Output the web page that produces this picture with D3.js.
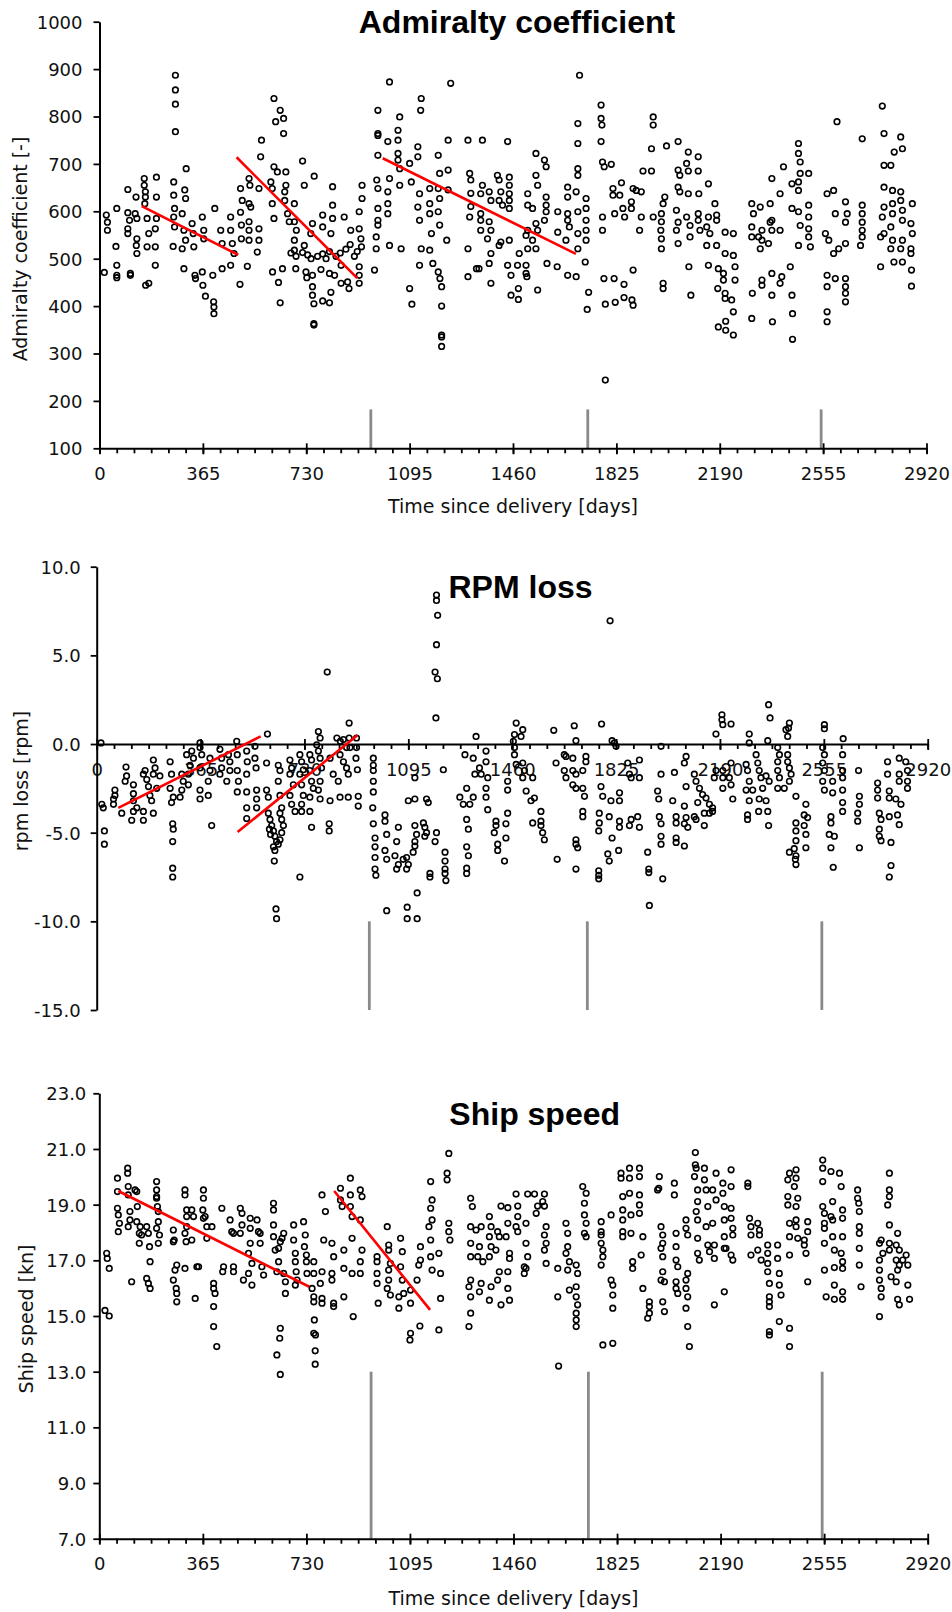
<!DOCTYPE html>
<html><head><meta charset="utf-8">
<script src="https://cdn.jsdelivr.net/npm/d3@7"></script>
<style>
html,body{margin:0;padding:0;background:#fff;}
svg{display:block;}
</style></head><body>
<svg id="chart" width="952" height="1612"></svg>
<script>
// ---------- tick labels ----------
const xTicks = [0, 365, 730, 1095, 1460, 1825, 2190, 2555, 2920];
const admiraltyTicks = [100, 200, 300, 400, 500, 600, 700, 800, 900, 1000];
const rpmTicks = [-15, -10, -5, 0, 5, 10];
const speedTicks = [7, 9, 11, 13, 15, 17, 19, 21, 23];

// ---------- event markers (days) ----------
const markerDays = [958, 1724, 2548];

// ---------- trend lines [day, value] ----------
const admiraltyTrends = [[[149, 611], [490, 508]], [[484, 714], [910, 459]], [[1000, 712], [1682, 510]]];
const rpmTrends = [[[76, -3.6], [576, 0.43]], [[495, -4.96], [916, 0.49]]];
const speedTrends = [[[67, 19.49], [740, 16.05]], [[828, 19.49], [1166, 15.22]]];

// ---------- Admiralty coefficient [day, value] ----------
const admiraltyPoints = [
[24,592],[28,577],[28,560],[61,606],[58,526],[100,646],[100,597],[106,581],[100,563],[100,553],[129,630],[126,595],[132,585],[132,542],[130,528],[132,511],[158,669],[158,655],[162,641],[162,630],[160,616],[168,585],[174,553],[168,525],[201,672],[201,630],[201,585],[197,563],[197,525],[268,887],[268,856],[268,826],[268,768],[262,662],[262,634],[265,606],[262,588],[265,567],[260,526],[301,645],[304,627],[306,690],[292,595],[298,560],[304,539],[292,521],[327,574],[331,553],[333,525],[363,588],[368,560],[368,542],[407,606],[428,560],[433,532],[463,588],[463,560],[469,532],[475,511],[498,648],[504,623],[498,598],[501,571],[501,542],[528,669],[531,655],[528,616],[534,609],[528,578],[528,560],[528,539],[557,514],[563,563],[563,539],[569,715],[572,750],[563,648],[605,662],[610,648],[610,616],[616,585],[616,838],[638,813],[622,789],[650,796],[650,764],[616,694],[628,683],[658,683],[658,655],[654,641],[654,623],[664,595],[670,578],[688,616],[688,578],[695,560],[688,539],[688,518],[717,706],[723,655],[758,674],[752,574],[746,553],[723,528],[788,592],[788,567],[823,652],[823,613],[823,585],[817,553],[864,588],[887,560],[917,599],[927,627],[927,655],[917,563],[923,542],[983,813],[983,764],[983,760],[983,718],[979,666],[983,648],[983,606],[983,581],[983,571],[977,546],[977,521],[1018,747],[1024,873],[1060,799],[1054,771],[1054,750],[1054,722],[1054,708],[1060,690],[1060,655],[1024,669],[1018,641],[1018,616],[1018,595],[1024,528],[1065,521],[1095,701],[1101,662],[1124,736],[1124,715],[1136,838],[1134,813],[1130,637],[1124,609],[1130,581],[1136,521],[1166,518],[1166,616],[1166,595],[1172,553],[1166,648],[1196,718],[1201,680],[1231,750],[1240,870],[1231,687],[1231,645],[1226,539],[1196,648],[1201,627],[1196,599],[1201,571],[1301,750],[1307,680],[1311,666],[1311,638],[1311,610],[1307,588],[1301,521],
[676,512],[694,505],[717,513],[735,508],[747,500],[770,505],[788,510],[800,500],[812,515],[835,505],[850,512],[870,520],[885,530],[900,505],[910,515],[925,525],
[1352,750],[1441,747],[1352,655],[1346,637],[1405,676],[1411,666],[1417,641],[1411,623],[1423,613],[1376,641],[1382,623],[1447,672],[1447,655],[1447,637],[1447,623],[1447,606],[1346,595],[1346,581],[1346,560],[1376,578],[1382,560],[1370,542],[1382,511],[1411,528],[1417,535],[1447,539],[1482,511],[1512,637],[1512,613],[1529,606],[1541,722],[1541,676],[1547,655],[1571,708],[1577,694],[1577,630],[1577,613],[1577,599],[1571,581],[1541,574],[1547,560],[1512,560],[1506,549],[1529,539],[1512,521],[1541,521],[1618,599],[1618,556],[1653,651],[1653,630],[1653,595],[1653,581],[1659,567],[1647,539],[1683,641],[1689,785],[1689,743],[1689,690],[1689,676],[1689,599],[1689,553],[1689,521],[1695,887],[1718,627],[1718,606],[1718,581],[1718,560],[1718,539],[1771,824],[1771,796],[1774,782],[1771,747],[1776,704],[1782,694],[1807,699],[1776,588],[1776,560],[1813,648],[1813,634],[1843,660],[1837,634],[1819,595],[1848,606],[1854,588],[1878,620],[1878,606],[1884,648],[1895,644],[1913,641],[1919,685],[1949,685],[1955,799],[1955,782],[1949,732],[1913,588],[1907,560],[1955,588],[1984,595],[1990,616],[1996,630],[1984,578],[1982,560],[1984,542],[1984,521],[2002,738],[2043,747],[2043,687],[2049,676],[2043,651],[2049,641],[2079,725],[2073,701],[2079,685],[2079,637],[2114,715],[2114,685],[2116,637],[2150,658],[2037,602],[2043,577],[2037,560],[2043,532],[2073,588],[2085,570],[2085,546],[2114,595],[2114,581],[2120,560],[2150,588],[2144,567],[2155,553],[2173,616],[2179,592],[2179,581],[2144,528],[2179,528],[2209,556],[2238,553],[2238,507],[2209,511],[2303,616],[2309,595],[2333,609],[2368,616],[2303,567],[2339,560],[2368,577],[2374,560],[2403,560],[2303,546],[2327,546],[2339,539],[2362,532],[2333,521],[2374,669],[2374,581],[2415,694],[2403,637],[2445,658],[2468,662],[2468,743],[2468,722],[2474,704],[2474,680],[2504,680],[2468,644],[2445,606],[2468,599],[2504,613],[2504,588],[2504,563],[2474,570],[2504,546],[2510,525],[2468,528],[2604,789],[2569,637],[2592,644],[2598,595],[2634,620],[2640,595],[2634,577],[2563,553],[2575,539],[2592,511],[2610,521],[2634,532],[2693,753],[2693,613],[2693,595],[2693,577],[2693,560],[2693,546],[2687,528],[2764,822],[2770,764],[2829,757],[2806,725],[2835,732],[2770,697],[2794,697],[2770,651],[2800,644],[2829,641],[2770,609],[2800,616],[2829,623],[2870,616],[2764,588],[2800,595],[2835,602],[2770,553],[2794,567],[2835,581],[2865,574],[2758,546],[2800,539],[2835,539],[2870,553],[2794,521],[2829,521],[2865,521],[2865,511],
[17,471],[61,486],[61,465],[61,460],[109,469],[109,465],[163,444],[174,448],[197,486],[298,479],[337,465],[339,458],[363,472],[365,444],[374,421],[400,465],[403,409],[404,398],[404,384],[433,479],[463,486],[496,446],[522,484],[611,472],[632,450],[638,407],[646,479],[693,479],[729,472],[732,460],[752,465],[752,441],[752,423],[757,405],[757,363],[757,360],[782,477],[788,411],[812,407],[817,429],[812,469],[830,465],[853,486],[853,448],[876,451],[881,437],[917,448],[917,483],[917,465],[971,476],[1095,437],[1103,404],[1130,486],[1177,490],[1196,472],[1202,458],[1208,441],[1208,400],[1208,339],[1208,335],[1208,315],[1301,462],[1331,479],
[1340,479],[1376,490],[1382,448],[1441,486],[1453,465],[1453,423],[1479,414],[1476,486],[1506,486],[1506,469],[1509,462],[1479,437],[1547,434],[1580,490],[1616,483],[1653,465],[1683,462],[1715,493],[1727,429],[1722,393],[1781,458],[1817,458],[1786,404],[1821,408],[1852,418],[1852,446],[1880,413],[1884,402],[1884,476],[1786,244],[1990,448],[1990,437],[2081,483],[2088,423],[2150,486],[2185,479],[2203,469],[2203,455],[2209,427],[2209,416],[2232,413],[2183,437],[2185,356],[2211,368],[2211,349],[2238,339],[2238,388],[2244,483],[2244,455],[2303,374],[2305,427],[2339,455],[2339,444],[2374,469],[2374,423],[2376,367],[2403,448],[2409,462],[2439,483],[2445,423],[2447,384],[2447,330],[2569,465],[2569,441],[2598,458],[2569,388],[2569,367],[2634,458],[2634,441],[2634,427],[2634,409],[2758,483],[2805,493],[2835,493],[2867,476],[2867,442]
];

// ---------- RPM loss [day, value] ----------
const rpmPoints = [
[15,0.06],[1194,8.4],[1194,8.1],[1198,7.26],[1194,5.6],[1189,4.06],[1197,3.68],[1192,1.47],[810,4.06],[887,1.18],[887,0.34],[913,0.34],[844,0.34],[856,0.15],[867,0.25],[878,-0.2],[890,-0.2],[779,0.7],[785,0.34],[773,-0.04],[600,0.56],[363,0.06],
[23,-3.6],[18,-3.4],[59,-3.1],[59,-3.4],[64,-2.6],[64,-2.9],[103,-1.3],[100,-2.1],[105,-1.8],[129,-2.3],[129,-2.8],[129,-3.2],[141,-3.6],[164,-1.7],[170,-1.5],[176,-2.0],[182,-2.4],[187,-2.9],[193,-3.2],[199,-0.9],[205,-1.35],[199,-1.7],[222,-1.8],[211,-2.5],[258,-1.0],[263,-1.7],[258,-2.5],[269,-3.0],[263,-3.3],[299,-1.7],[304,-2.1],[299,-2.6],[293,-3.0],[316,-0.6],[334,-0.4],[340,-0.8],[328,-1.2],[322,-1.7],[322,-2.3],[363,-0.2],[369,-0.6],[363,-1.35],[363,-2.6],[363,-3.1],[398,-0.8],[398,-1.5],[392,-2.1],[392,-2.9],[433,-0.3],[439,-0.8],[439,-1.35],[433,-1.7],[463,-0.6],[468,-1.0],[468,-1.5],[457,-2.1],[492,0.15],[494,-0.6],[494,-1.5],[498,-2.1],[494,-2.7],[527,-0.4],[529,-1.0],[527,-1.7],[527,-2.7],[556,-0.13],[556,-0.8],[560,-1.35],[562,-2.6],[597,-2.6],[603,-3.0],[562,-3.1],[597,-1.07],[527,-3.6],[562,-3.6],[638,-1.2],[644,-1.5],[638,-2.1],[644,-2.9],[650,-3.6],[679,-0.9],[685,-1.35],[679,-1.7],[691,-2.3],[679,-2.9],[685,-3.4],[714,-0.6],[720,-1.0],[726,-1.45],[714,-1.7],[720,-2.3],[726,-2.9],[720,-3.4],[749,-0.6],[755,-0.9],[749,-1.5],[755,-2.1],[761,-2.5],[749,-3.0],[779,-0.4],[785,-0.8],[790,-1.35],[785,-2.1],[779,-2.6],[785,-3.1],[820,-3.2],[855,-3.0],[820,-0.8],[831,-1.7],[849,-2.1],[855,-0.6],[867,-1.0],[878,-1.35],[884,-1.7],[884,-3.0],[913,-0.2],[911,-0.8],[916,-1.45],[919,-2.95],[919,-3.5],[972,-0.8],[972,-1.2],[972,-1.5],[972,-2.1],[972,-2.7],[970,-3.6],[1294,-0.6],[1323,-0.8],[1329,-1.7],[1323,-3.0],[1300,-2.5],[1311,-3.4],[1276,-3.0],[1288,-3.4],[1095,-3.2],[1118,-3.1],[1159,-3.1],[1165,-3.3],[1218,-1.45],[1118,-1.9],
[27,-4.9],[27,-5.65],[88,-3.9],[123,-4.3],[129,-3.8],[164,-4.3],[164,-3.8],[199,-3.9],[267,-4.5],[269,-4.8],[267,-5.5],[267,-7.0],[267,-7.5],[404,-4.6],[527,-4.2],[603,-3.9],[609,-4.25],[615,-4.6],[621,-4.9],[626,-5.2],[632,-5.5],[638,-5.65],[644,-5.4],[650,-5.0],[656,-4.6],[650,-4.25],[644,-3.9],[621,-5.8],[626,-6.0],[624,-6.6],[607,-4.8],[611,-5.1],[630,-9.3],[632,-9.85],[714,-7.5],[755,-4.7],[817,-4.5],[817,-4.9],[697,-3.8],[720,-3.8],[749,-3.8],[972,-4.5],[978,-5.3],[978,-5.8],[978,-6.4],[978,-7.05],[981,-7.4],[1013,-4.0],[1013,-4.35],[1019,-5.1],[1013,-6.0],[1019,-6.5],[1019,-9.4],[1054,-5.5],[1048,-6.3],[1060,-6.8],[1054,-7.05],[1077,-6.5],[1089,-6.4],[1095,-6.8],[1089,-7.05],[1060,-4.7],[1091,-9.2],[1091,-9.85],[1126,-9.85],[1126,-8.4],[1112,-6.1],[1118,-5.75],[1118,-4.6],[1124,-5.1],[1118,-5.5],[1148,-4.45],[1153,-4.7],[1159,-5.0],[1153,-5.2],[1171,-7.3],[1171,-7.5],[1189,-5.5],[1194,-5.0],[1224,-6.1],[1224,-6.6],[1224,-7.05],[1224,-7.3],[1227,-7.7],[1300,-4.25],[1306,-4.8],[1300,-5.8],[1306,-6.3],[1300,-7.0],[1300,-7.3],
[1374,-3.7],[1403,-4.35],[1403,-4.6],[1397,-5.0],[1438,-4.5],[1438,-5.3],[1409,-5.65],[1409,-6.0],[1444,-3.9],[1433,-6.6],[1532,-4.45],[1561,-4.35],[1561,-4.6],[1567,-5.0],[1573,-5.4],[1561,-3.8],[1618,-6.5],[1684,-5.4],[1684,-5.65],[1690,-5.85],[1684,-7.05],[1708,-3.8],[1708,-4.1],[1766,-3.9],[1766,-4.45],[1764,-4.9],[1764,-7.15],[1764,-7.4],[1764,-7.6],[1801,-4.1],[1811,-5.3],[1796,-6.2],[1801,-6.6],[1837,-4.35],[1837,-4.7],[1834,-6.0],[1872,-4.6],[1878,-4.25],[1907,-4.7],[1901,-4.1],[1936,-6.1],[1940,-7.05],[1940,-7.25],[1942,-9.1],[1977,-4.1],[1983,-4.5],[1983,-5.2],[1983,-5.65],[1989,-7.6],[2036,-4.1],[2036,-4.45],[2036,-5.3],[2036,-5.55],[2065,-4.5],[2071,-4.15],[2065,-5.75],[2077,-4.7],[2100,-4.1],[2106,-4.25],[2135,-3.9],[2135,-4.6],[2153,-3.9],[2164,-3.8],[2287,-4.0],[2287,-4.25],[2326,-3.8],[2358,-3.8],[2361,-4.6],[2434,-6.1],[2457,-6.3],[2457,-6.8],[2455,-6.5],[2451,-5.9],[2457,-4.45],[2457,-4.9],[2457,-5.45],[2486,-4.0],[2486,-4.6],[2498,-4.15],[2492,-5.1],[2492,-5.85],[2580,-4.1],[2580,-4.45],[2574,-5.1],[2592,-5.2],[2580,-5.85],[2588,-6.95],[2621,-3.8],[2674,-3.9],[2674,-4.35],[2680,-5.85],[2750,-3.9],[2756,-4.25],[2750,-4.8],[2750,-5.2],[2756,-5.45],[2791,-5.55],[2791,-6.85],[2785,-7.5],[2814,-4.0],[2820,-4.55],[2785,-4.1],
[1804,6.95],[1474,1.18],[1468,0.53],[1464,0.15],[1497,0.81],[1491,0.43],[1606,0.77],[1678,1.03],[1684,0.19],[1774,1.13],[1811,0.19],[1819,0.06],[1825,-0.13],[2176,0.56],[2197,1.65],[2197,1.37],[2200,1.09],[2229,1.13],[2293,0.56],[2293,0.06],[2361,2.22],[2366,1.47],[2358,0.19],[2434,1.18],[2431,0.9],[2422,0.81],[2428,0.43],[2557,1.09],[2557,0.86],[2623,0.3],[1333,0.43],[1983,-0.13],
[1368,-0.4],[1368,-1.0],[1345,-1.35],[1351,-1.7],[1374,-1.9],[1368,-2.5],[1368,-3.0],[1468,-0.2],[1468,-0.6],[1474,-1.15],[1497,-1.07],[1503,-1.5],[1497,-1.9],[1509,-2.65],[1532,-1.9],[1538,-3.05],[1526,-3.2],[1444,-2.1],[1444,-2.6],[1614,-1.07],[1643,-0.6],[1649,-0.7],[1673,-0.8],[1643,-1.5],[1649,-1.9],[1673,-1.5],[1684,-1.7],[1708,-1.5],[1673,-2.3],[1684,-2.5],[1708,-2.5],[1714,-2.95],[1719,-0.7],[1719,-1.0],[1772,-2.4],[1778,-2.95],[1807,-3.2],[1837,-3.2],[1837,-2.75],[1866,-1.07],[1872,-1.7],[1878,-1.9],[1907,-0.9],[1907,-1.9],[1983,-1.7],[1971,-2.65],[1975,-3.1],[2030,-1.6],[2024,-3.2],[2065,-3.5],[2071,-0.7],[2065,-1.07],[2071,-2.4],[2100,-1.7],[2106,-2.1],[2118,-2.5],[2129,-2.85],[2141,-3.05],[2153,-3.4],[2164,-3.6],[2112,-3.3],[2170,-1.9],[2176,-1.5],[2200,-1.5],[2200,-1.9],[2200,-2.5],[2229,-1.07],[2223,-1.9],[2229,-2.3],[2235,-3.1],[2282,-1.15],[2287,-1.5],[2293,-2.1],[2317,-0.6],[2323,-1.07],[2328,-1.5],[2334,-1.9],[2340,-2.5],[2352,-1.8],[2363,-2.1],[2305,-2.6],[2282,-2.6],[2293,-3.2],[2328,-3.1],[2352,-3.2],[2393,-0.2],[2399,-0.6],[2393,-1.0],[2393,-1.5],[2393,-2.5],[2399,-1.9],[2428,-0.6],[2428,-1.0],[2434,-1.35],[2434,-2.1],[2416,-2.5],[2440,-1.7],[2457,-2.95],[2492,-3.4],[2551,-0.2],[2557,-0.6],[2551,-1.07],[2557,-1.5],[2551,-2.1],[2557,-2.6],[2586,-2.1],[2586,-2.75],[2621,-0.6],[2621,-1.5],[2621,-1.9],[2621,-2.6],[2621,-3.3],[2677,-1.5],[2680,-2.95],[2680,-3.4],[2744,-2.2],[2744,-2.6],[2744,-3.05],[2779,-1.0],[2779,-1.7],[2785,-2.65],[2785,-3.05],[2820,-0.8],[2820,-1.7],[2820,-2.1],[2826,-3.4],[2808,-3.1],[2843,-1.0],[2849,-1.5],[2849,-2.1],[2849,-2.5]
];

// ---------- Ship speed [day, value] ----------
const speedPoints = [
[26,17.25],[28,17.07],[35,16.71],[20,15.2],[35,15.0],[64,19.95],[64,19.47],[64,18.87],[67,18.63],[71,18.33],[67,18.03],[100,20.31],[100,20.13],[102,19.65],[102,19.35],[108,18.75],[108,18.45],[102,18.21],[114,16.23],[126,19.53],[132,19.47],[134,18.93],[132,18.39],[141,17.97],[141,17.61],[149,17.91],[144,18.21],[167,18.21],[173,17.97],[177,17.49],[179,16.95],[167,16.35],[173,16.17],[179,15.99],[202,19.83],[202,19.53],[202,19.29],[205,18.93],[208,18.75],[208,18.39],[202,18.15],[208,17.61],[212,17.91],[202,19.23],[261,18.09],[261,17.67],[273,16.83],[267,16.65],[261,16.29],[271,15.99],[273,15.81],[273,15.51],[264,17.73],[302,19.53],[302,19.35],[308,18.81],[308,18.57],[308,18.21],[302,17.97],[306,17.67],[302,16.71],[326,17.73],[332,18.57],[326,18.81],[338,15.63],[344,16.77],[350,16.77],[367,19.53],[367,19.23],[365,18.81],[373,18.57],[379,18.21],[379,17.79],[367,18.51],[397,18.21],[403,16.17],[403,15.99],[408,15.81],[403,15.34],[403,14.62],[414,13.9],[432,18.87],[435,16.59],[438,16.77],[461,18.45],[467,18.03],[473,17.97],[473,16.77],[473,16.59],[497,18.87],[503,18.69],[497,17.97],[503,18.27],[508,16.29],[532,18.51],[532,18.15],[532,17.61],[526,17.25],[526,16.53],[538,16.11],[538,16.89],[556,18.45],[561,18.03],[567,17.61],[567,17.97],[573,16.77],[579,16.47],[614,19.05],[614,18.81],[614,18.27],[614,17.85],[620,17.37],[626,16.59],[632,16.95],[632,17.43],[638,17.67],[644,17.79],[650,17.97],[656,15.81],[656,16.23],[650,16.53],[638,14.56],[636,14.2],[685,18.27],[685,17.73],[691,17.25],[691,16.95],[694,16.59],[697,16.29],[691,16.11],[720,18.39],[726,17.91],[723,17.49],[730,17.19],[730,16.95],[732,16.53],[756,16.95],[756,16.53],[750,15.99],[756,15.69],[756,15.51],[758,14.86],[756,14.38],[762,14.32],[785,19.35],[797,18.75],[791,17.73],[785,16.59],[779,16.17],[785,15.63],[785,15.46],[820,17.61],[826,17.13],[820,16.53],[820,16.29],[826,15.46],[826,15.34],[850,19.59],[850,19.17],[856,18.93],[862,17.37],[862,16.71],[862,15.69],[885,19.95],[885,19.35],[885,18.93],[891,18.57],[891,17.79],[891,16.53],[895,14.98],[920,19.53],[926,19.29],[920,18.45],[926,17.37],[920,16.95],[920,16.53],[979,17.13],[979,16.95],[979,16.53],[979,16.17],[983,15.46],[1015,18.21],[1020,17.55],[1020,17.37],[1026,16.89],[1020,16.65],[1020,16.29],[1015,15.99],[1026,15.75],[1056,15.69],[1056,15.28],[1062,17.79],[1068,17.31],[1062,16.77],[1068,16.29],[1073,15.81],[1097,15.93],[1097,15.46],[1120,16.29],[1126,16.83],[1132,17.49],[1132,17.01],[1097,14.38],[1095,14.14],[1130,14.64],[1168,19.83],[1173,19.17],[1168,18.87],[1173,18.45],[1162,18.21],[1168,17.73],[1168,17.13],[1173,16.65],[1197,17.25],[1203,16.53],[1203,15.63],[1197,14.5],[1232,20.84],[1226,20.13],[1226,19.89],[1232,18.33],[1232,18.03],[1236,17.73],[1309,19.23],[1315,18.93],[1309,18.21],[1309,17.61],[1309,17.13],[1309,16.29],[1303,16.05],[1309,15.69],[1309,15.1],[1303,14.62],
[1328,18.09],[1346,18.21],[1375,18.57],[1381,18.21],[1340,17.49],[1334,17.13],[1352,16.95],[1375,17.13],[1398,17.37],[1410,17.85],[1404,18.03],[1375,17.85],[1381,17.49],[1346,16.17],[1340,15.87],[1381,16.05],[1375,15.57],[1416,15.4],[1446,15.57],[1440,15.99],[1404,16.29],[1440,16.59],[1410,16.59],[1416,18.95],[1440,18.89],[1440,18.33],[1434,17.85],[1446,17.25],[1446,17.07],[1469,19.38],[1475,18.95],[1475,18.57],[1469,18.21],[1475,18.03],[1504,18.33],[1504,17.61],[1510,17.13],[1504,16.71],[1498,16.53],[1498,16.77],[1510,19.38],[1534,19.38],[1545,18.95],[1540,18.69],[1569,19.38],[1569,18.95],[1563,19.11],[1575,18.21],[1569,17.91],[1575,17.61],[1569,17.37],[1575,16.89],[1616,16.71],[1616,15.69],[1645,18.33],[1651,17.97],[1651,17.49],[1645,17.25],[1657,16.95],[1651,16.65],[1657,15.93],[1681,16.83],[1686,16.53],[1681,16.05],[1681,15.69],[1686,15.40],[1681,15.10],[1681,14.86],[1681,14.62],[1704,19.65],[1716,19.41],[1710,19.05],[1710,18.63],[1716,18.33],[1710,17.97],[1716,17.85],[1769,18.39],[1769,18.03],[1769,17.61],[1775,17.37],[1775,17.13],[1769,16.83],[1769,17.91],[1804,18.63],[1804,16.29],[1810,16.11],[1810,15.75],[1810,15.28],[1775,13.96],[1810,14.02],[1839,20.13],[1839,19.95],[1869,20.31],[1869,19.95],[1904,20.31],[1904,20.01],[1845,19.29],[1869,19.41],[1904,19.35],[1845,18.81],[1874,18.63],[1904,18.99],[1904,18.69],[1845,18.45],[1845,18.03],[1845,17.85],[1874,17.97],[1880,16.95],[1880,16.71],[1916,17.85],[1910,17.19],[1916,15.99],[1939,15.51],[1939,15.34],[1939,15.10],[1933,14.92],[1974,20.01],[1972,19.59],[1968,19.53],[1980,18.21],[1986,17.91],[1986,17.61],[1980,17.43],[1986,17.13],[1986,16.59],[1980,16.29],[1992,16.23],[1986,15.51],[1992,15.16],[2027,19.77],[2027,19.35],[2033,17.97],[2033,17.49],[2033,17.01],[2039,16.77],[2033,16.23],[2033,15.99],[2039,15.81],[2068,18.45],[2068,18.15],[2074,17.91],[2074,16.53],[2068,16.29],[2068,15.99],[2074,15.69],[2068,15.28],[2074,14.62],[2080,13.90],[2101,20.87],[2101,20.43],[2104,20.31],[2098,20.01],[2109,19.53],[2109,19.11],[2104,18.75],[2109,18.45],[2109,17.79],[2109,17.25],[2115,17.01],[2133,20.31],[2133,19.89],[2139,19.53],[2145,18.93],[2139,18.21],[2145,17.55],[2151,17.31],[2162,19.53],[2162,18.33],[2174,20.13],[2174,19.17],[2168,17.07],[2168,17.55],[2198,19.77],[2198,19.41],[2203,18.93],[2203,18.45],[2203,17.85],[2203,17.43],[2227,20.25],[2227,19.65],[2227,18.87],[2227,18.51],[2233,18.15],[2233,17.91],[2227,17.19],[2233,17.01],[2209,17.43],[2203,15.87],[2168,15.40],[2286,19.77],[2286,19.65],[2292,18.51],[2297,18.21],[2297,17.91],[2297,17.19],[2321,18.33],[2327,18.09],[2327,17.91],[2321,17.37],[2333,17.01],[2356,17.55],[2356,17.25],[2356,16.89],[2356,16.59],[2362,16.17],[2362,15.69],[2362,15.51],[2362,15.34],[2362,14.44],[2362,14.32],[2391,17.55],[2391,17.07],[2397,16.53],[2397,16.11],[2403,15.75],[2397,14.80],[2433,20.13],[2427,19.89],[2456,20.25],[2456,19.95],[2450,19.65],[2427,19.29],[2462,19.23],[2427,18.99],[2456,18.93],[2456,18.45],[2433,18.33],[2456,18.21],[2433,17.85],[2462,17.79],[2485,17.73],[2485,17.55],[2491,17.25],[2497,18.39],[2497,18.03],[2497,16.23],[2433,17.19],[2433,14.56],[2433,13.90],[2550,20.6],[2550,20.31],[2550,19.83],[2579,20.19],[2609,20.13],[2615,19.65],[2550,18.93],[2556,18.69],[2585,19.11],[2579,18.57],[2585,18.45],[2556,18.33],[2556,18.15],[2585,17.85],[2620,17.85],[2620,18.81],[2620,18.51],[2556,17.61],[2591,17.37],[2615,17.25],[2620,16.95],[2620,16.71],[2556,16.65],[2591,16.74],[2591,16.11],[2562,15.69],[2591,15.6],[2620,15.87],[2620,15.6],[2673,19.53],[2673,19.23],[2677,19.05],[2679,18.75],[2679,18.21],[2679,17.97],[2679,17.43],[2679,16.83],[2685,16.05],[2785,20.13],[2785,19.53],[2785,19.29],[2779,18.99],[2785,18.27],[2756,17.73],[2750,17.61],[2762,17.25],[2750,17.01],[2785,17.61],[2814,17.97],[2809,17.55],[2785,17.37],[2820,17.37],[2844,17.19],[2850,16.83],[2750,16.65],[2750,16.29],[2756,15.99],[2756,15.69],[2791,16.41],[2814,16.65],[2820,16.83],[2809,16.23],[2850,16.11],[2814,15.60],[2820,15.40],[2856,15.60],[2750,14.98],[2809,17.01],[2832,17.01],
[638,12.9],[761,13.27],[626,13.6],[761,13.75],[1619,13.2]
];

// ---------- layout (positions only) ----------
const panels = [
  { points: admiraltyPoints, trends: admiraltyTrends, yTicks: admiraltyTicks, yDomain: [100, 1000],
    xRange: [99.5, 926.5], yRange: [448.3, 21.7], base: 100, markerSpan: [100, 182], decimals: 0,
    title: "Admiralty coefficient", titleX: 517, titleY: 33,
    yTitle: "Admiralty coefficient [-]", yTitleX: 20, yTitleY: 249,
    xTitle: "Time since delivery [days]", xTitleY: 513, tickGap: 17 },
  { points: rpmPoints, trends: rpmTrends, yTicks: rpmTicks, yDomain: [-15, 10],
    xRange: [96.7, 927.7], yRange: [1010, 566.7], base: 0, markerSpan: [-15, -10], decimals: 1,
    title: "RPM loss", titleX: 520.5, titleY: 598,
    yTitle: "rpm loss [rpm]", yTitleX: 21, yTitleY: 781,
    xTitle: null, tickGap: 16 },
  { points: speedPoints, trends: speedTrends, yTicks: speedTicks, yDomain: [7, 23],
    xRange: [99.3, 927.7], yRange: [1538.7, 1093.3], base: 7, markerSpan: [7, 13], decimals: 1,
    title: "Ship speed", titleX: 534.7, titleY: 1125,
    yTitle: "Ship speed [kn]", yTitleX: 26, yTitleY: 1319,
    xTitle: "Time since delivery [days]", xTitleY: 1605, tickGap: 13 }
];

const svg = d3.select("#chart");
svg.append("rect").attr("width", 952).attr("height", 1612).attr("fill", "#fff");

const FONT = "'DejaVu Sans', Verdana, sans-serif";
const minorTicks = d3.range(0, 2920.01, 365 / 6).map(v => Math.round(v * 100) / 100);

panels.forEach(p => {
  const x = d3.scaleLinear().domain([0, 2920]).range(p.xRange);
  const y = d3.scaleLinear().domain(p.yDomain).range(p.yRange);
  const g = svg.append("g");
  const axisY = y(p.base);

  // grey event markers
  g.append("g").selectAll("line").data(markerDays).join("line")
    .attr("x1", d => x(d)).attr("x2", d => x(d))
    .attr("y1", y(p.markerSpan[0])).attr("y2", y(p.markerSpan[1]))
    .attr("stroke", "#8a8a8a").attr("stroke-width", 2.8);

  // x axis minor ticks + line
  const gxMinor = g.append("g").attr("transform", `translate(0,${axisY})`)
    .call(d3.axisBottom(x).tickValues(minorTicks).tickSize(5).tickSizeOuter(0).tickFormat(""));
  gxMinor.select(".domain").attr("stroke", "#000").attr("stroke-width", 2);
  gxMinor.selectAll(".tick line").attr("stroke", "#000").attr("stroke-width", 1.8);

  // x axis major ticks + labels
  const gxMajor = g.append("g").attr("transform", `translate(0,${axisY})`)
    .call(d3.axisBottom(x).tickValues(xTicks).tickSize(6).tickFormat(d => String(d)));
  gxMajor.select(".domain").remove();
  gxMajor.selectAll(".tick line").attr("y1", -5).attr("stroke", "#000").attr("stroke-width", 1.8);
  gxMajor.selectAll(".tick text").attr("y", 31.5).attr("dy", 0)
    .attr("font-family", FONT).attr("font-size", 18).attr("fill", "#111");

  // y axis
  const gy = g.append("g").attr("transform", `translate(${x(0)},0)`)
    .call(d3.axisLeft(y).tickValues(p.yTicks).tickSize(6).tickSizeOuter(0)
      .tickFormat(d => d.toFixed(p.decimals)));
  gy.select(".domain").attr("stroke", "#000").attr("stroke-width", 2);
  gy.selectAll(".tick line").attr("stroke", "#000").attr("stroke-width", 1.8);
  gy.selectAll(".tick text").attr("x", -p.tickGap).attr("dy", "0.36em")
    .attr("font-family", FONT).attr("font-size", 18).attr("fill", "#111");

  // points
  g.append("g").selectAll("circle").data(p.points).join("circle")
    .attr("cx", d => x(d[0])).attr("cy", d => y(d[1])).attr("r", 2.8)
    .attr("fill", "none").attr("stroke", "#000").attr("stroke-width", 1.6);

  // trend lines
  const line = d3.line().x(d => x(d[0])).y(d => y(d[1]));
  g.append("g").selectAll("path").data(p.trends).join("path")
    .attr("d", line).attr("fill", "none").attr("stroke", "#ff0000").attr("stroke-width", 2.6);

  // titles
  g.append("text").attr("x", p.titleX).attr("y", p.titleY).attr("text-anchor", "middle")
    .attr("font-family", "'Liberation Sans', Arial, sans-serif").attr("font-weight", "bold")
    .attr("font-size", 32).attr("fill", "#000").text(p.title);

  g.append("text").attr("transform", `translate(${p.yTitleX},${p.yTitleY}) rotate(-90)`)
    .attr("text-anchor", "middle").attr("dominant-baseline", "central")
    .attr("font-family", FONT).attr("font-size", 19).attr("fill", "#111").text(p.yTitle);

  if (p.xTitle) {
    g.append("text").attr("x", (p.xRange[0] + p.xRange[1]) / 2).attr("y", p.xTitleY)
      .attr("text-anchor", "middle").attr("font-family", FONT).attr("font-size", 19)
      .attr("fill", "#111").text(p.xTitle);
  }
});
</script>
</body></html>
